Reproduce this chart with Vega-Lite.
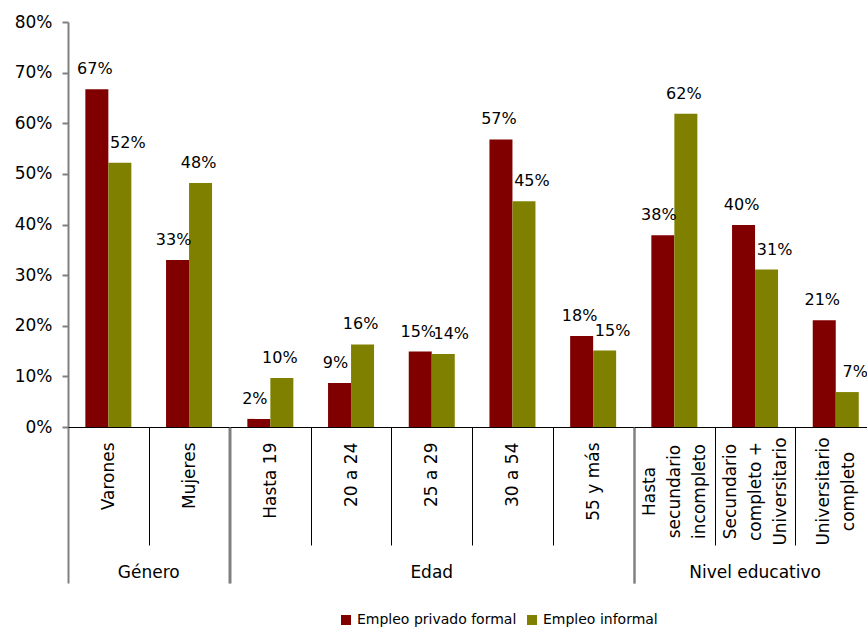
{
  "$schema": "https://vega.github.io/schema/vega-lite/v6.json",
  "padding": {"left": 14, "top": 13, "right": 0, "bottom": 0},
  "background": "white",
  "bounds": "flush",
  "config": {"font": "DejaVu Sans", "view": {"stroke": null}},
  "data": {"values": [
    {"grupo": "Género", "categoria": "Varones", "serie": "Empleo privado formal", "valor": 0.667},
    {"grupo": "Género", "categoria": "Varones", "serie": "Empleo informal", "valor": 0.522},
    {"grupo": "Género", "categoria": "Mujeres", "serie": "Empleo privado formal", "valor": 0.33},
    {"grupo": "Género", "categoria": "Mujeres", "serie": "Empleo informal", "valor": 0.482},
    {"grupo": "Edad", "categoria": "Hasta 19", "serie": "Empleo privado formal", "valor": 0.016},
    {"grupo": "Edad", "categoria": "Hasta 19", "serie": "Empleo informal", "valor": 0.097},
    {"grupo": "Edad", "categoria": "20 a 24", "serie": "Empleo privado formal", "valor": 0.087},
    {"grupo": "Edad", "categoria": "20 a 24", "serie": "Empleo informal", "valor": 0.163},
    {"grupo": "Edad", "categoria": "25 a 29", "serie": "Empleo privado formal", "valor": 0.149},
    {"grupo": "Edad", "categoria": "25 a 29", "serie": "Empleo informal", "valor": 0.144},
    {"grupo": "Edad", "categoria": "30 a 54", "serie": "Empleo privado formal", "valor": 0.568},
    {"grupo": "Edad", "categoria": "30 a 54", "serie": "Empleo informal", "valor": 0.446},
    {"grupo": "Edad", "categoria": "55 y más", "serie": "Empleo privado formal", "valor": 0.18},
    {"grupo": "Edad", "categoria": "55 y más", "serie": "Empleo informal", "valor": 0.151},
    {"grupo": "Nivel educativo", "categoria": "Hasta secundario incompleto", "serie": "Empleo privado formal", "valor": 0.379},
    {"grupo": "Nivel educativo", "categoria": "Hasta secundario incompleto", "serie": "Empleo informal", "valor": 0.619},
    {"grupo": "Nivel educativo", "categoria": "Secundario completo + Universitario", "serie": "Empleo privado formal", "valor": 0.399},
    {"grupo": "Nivel educativo", "categoria": "Secundario completo + Universitario", "serie": "Empleo informal", "valor": 0.311},
    {"grupo": "Nivel educativo", "categoria": "Universitario completo", "serie": "Empleo privado formal", "valor": 0.211},
    {"grupo": "Nivel educativo", "categoria": "Universitario completo", "serie": "Empleo informal", "valor": 0.069}
  ]},
  "facet": {
    "column": {
      "field": "grupo", "type": "nominal",
      "sort": ["Género", "Edad", "Nivel educativo"],
      "title": null,
      "header": {"labelOrient": "bottom", "labelFont": "DejaVu Sans", "labelFontSize": 17, "labelColor": "#000", "labelBaseline": "top", "labelPadding": 138}
    }
  },
  "spacing": 0,
  "resolve": {"scale": {"x": "independent", "xOffset": "independent"}},
  "spec": {
    "width": {"step": 80.7, "for": "position"},
    "height": 405,
    "transform": [
      {"joinaggregate": [{"op": "max", "field": "valor", "as": "maxv"}], "groupby": ["categoria"]}
    ],
    "encoding": {
      "x": {
        "field": "categoria", "type": "nominal", "sort": null,
        "scale": {"paddingInner": 0, "paddingOuter": 0},
        "axis": {
          "title": null,
          "tickBand": "extent",
          "domainColor": "#000",
          "domainWidth": 1,
          "tickColor": {"condition": {"test": "datum.extra || datum.value === 'Mujeres' || datum.value === '55 y más' || datum.value === 'Universitario completo'", "value": "#808080"}, "value": "#000"},
          "tickSize": {"condition": {"test": "datum.extra || datum.value === 'Mujeres' || datum.value === '55 y más' || datum.value === 'Universitario completo'", "value": 156}, "value": 118},
          "tickWidth": {"condition": {"test": "datum.extra || datum.value === 'Mujeres' || datum.value === '55 y más' || datum.value === 'Universitario completo'", "value": 2}, "value": 1},
          "labelAngle": -90,
          "labelFont": "DejaVu Sans",
          "labelFontSize": 17,
          "labelColor": "#000",
          "labelLimit": 400,
          "labelOverlap": false,
          "labelLineHeight": 25,
          "labelBaseline": "middle",
          "labelExpr": "datum.label == 'Hasta secundario incompleto' ? ['Hasta', 'secundario', 'incompleto'] : datum.label == 'Secundario completo + Universitario' ? ['Secundario', 'completo +', 'Universitario'] : datum.label == 'Universitario completo' ? ['Universitario', 'completo'] : datum.label",
          "labelAlign": {"condition": {"test": "datum.value === 'Hasta secundario incompleto' || datum.value === 'Secundario completo + Universitario' || datum.value === 'Universitario completo'", "value": "center"}, "value": "right"},
          "labelOffset": {"condition": [
            {"test": "datum.value === 'Universitario completo'", "value": -12.5},
            {"test": "datum.value === 'Hasta secundario incompleto' || datum.value === 'Secundario completo + Universitario'", "value": -25}
          ], "value": 0},
          "labelPadding": {"condition": [
            {"test": "datum.value === 'Universitario completo'", "value": -92},
            {"test": "datum.value === 'Hasta secundario incompleto' || datum.value === 'Secundario completo + Universitario'", "value": -54},
            {"test": "datum.value === 'Mujeres' || datum.value === '55 y más'", "value": -141}
          ], "value": -103}
        }
      },
      "xOffset": {
        "field": "serie", "type": "nominal",
        "sort": ["Empleo privado formal", "Empleo informal"],
        "scale": {"paddingInner": 0, "paddingOuter": 0.754}
      },
      "y": {
        "field": "valor", "type": "quantitative",
        "scale": {"domain": [0, 0.8]},
        "axis": {
          "title": null, "format": ".0%", "values": [0, 0.1, 0.2, 0.3, 0.4, 0.5, 0.6, 0.7, 0.8],
          "grid": false, "domainColor": "#808080", "domainWidth": 2,
          "tickColor": "#808080", "tickWidth": 2, "tickSize": 6, "labelPadding": 10,
          "labelFont": "DejaVu Sans", "labelFontSize": 17, "labelColor": "#000"
        }
      }
    },
    "layer": [
      {
        "mark": {"type": "bar"},
        "encoding": {
          "color": {
            "field": "serie", "type": "nominal",
            "sort": ["Empleo privado formal", "Empleo informal"],
            "scale": {"domain": ["Empleo privado formal", "Empleo informal"], "range": ["#800000", "#808000"]},
            "legend": {
              "orient": "none", "legendX": 271, "legendY": 591, "direction": "horizontal", "title": null,
              "symbolType": "square", "symbolSize": 100, "symbolStrokeWidth": 0,
              "labelFont": "DejaVu Sans", "labelFontSize": 14, "labelColor": "#000",
              "labelOffset": 4, "columnPadding": 8, "labelLimit": 400
            }
          }
        }
      },
      {
        "transform": [{"filter": "datum.valor >= datum.maxv"}],
        "mark": {"type": "text", "dy": -15, "dx": -2, "baseline": "alphabetic", "fontSize": 16, "font": "DejaVu Sans", "color": "#000"},
        "encoding": {"text": {"field": "valor", "type": "quantitative", "format": ".0%"}}
      },
      {
        "transform": [{"filter": "datum.valor < datum.maxv && datum.serie === 'Empleo privado formal'"}],
        "mark": {"type": "text", "dy": -15, "dx": -4, "baseline": "alphabetic", "fontSize": 16, "font": "DejaVu Sans", "color": "#000"},
        "encoding": {"text": {"field": "valor", "type": "quantitative", "format": ".0%"}}
      },
      {
        "transform": [{"filter": "datum.valor < datum.maxv && datum.serie === 'Empleo informal'"}],
        "mark": {"type": "text", "dy": -15, "dx": 8, "baseline": "alphabetic", "fontSize": 16, "font": "DejaVu Sans", "color": "#000"},
        "encoding": {"text": {"field": "valor", "type": "quantitative", "format": ".0%"}}
      }
    ]
  }
}
